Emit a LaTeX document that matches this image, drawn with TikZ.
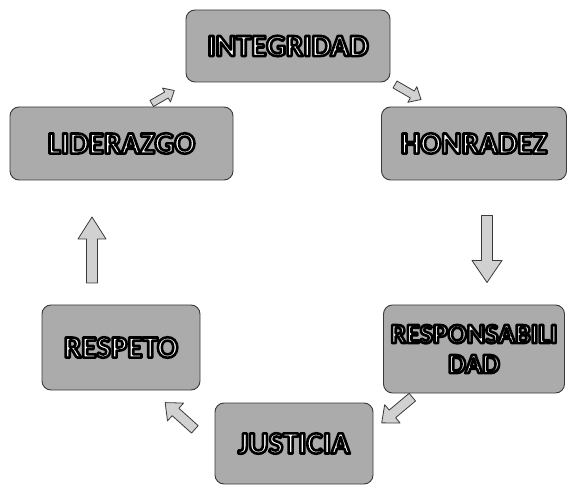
\documentclass[tikz,border=0pt]{standalone}
\usepackage{fontspec}
\setmainfont{Carlito}
\definecolor{boxgray}{HTML}{ABABAB}
\definecolor{edgegray}{HTML}{3A3A3A}
% white letters with a black outline (fill + stroke text render mode)
\newcommand{\lbl}[1]{{\color{white}\special{pdf:code q 2 Tr 2.6 w 0 G 1 j}#1\special{pdf:code Q}}}
% block arrow: x, y, angle, length, head width, shaft width, head length
\newcommand{\blockarr}[7]{%
  \begin{scope}[shift={(#1,#2)}, rotate=#3]
    \draw[blockarrowline] (-#4/2,-#6/2) -- (#4/2-#7,-#6/2) -- (#4/2-#7,-#5/2) -- (#4/2,0)
      -- (#4/2-#7,#5/2) -- (#4/2-#7,#6/2) -- (-#4/2,#6/2) -- cycle;
  \end{scope}}
\tikzset{
  valuebox/.style={draw=edgegray, line width=0.9pt, fill=boxgray, rounded corners=9pt,
    inner sep=0pt, align=center, font=\fontsize{31}{32}\selectfont\bfseries},
  blockarrowline/.style={draw=edgegray, line width=0.8pt, fill=boxgray!55, line join=round}
}
\begin{document}
\begin{tikzpicture}[x=1pt,y=-1pt]
\useasboundingbox (0,0) rectangle (568,489);
% boxes
\node[valuebox, minimum width=204pt, minimum height=72pt] (int) at (288,46) {\lbl{INTEGRIDAD}};
\node[valuebox, minimum width=223pt, minimum height=73pt] (lid) at (121.5,143.5) {\lbl{LIDERAZGO}};
\node[valuebox, minimum width=185pt, minimum height=73pt] (hon) at (474,143.5) {\lbl{HONRADEZ}};
\node[valuebox, minimum width=181pt, minimum height=88pt, font=\fontsize{28}{30}\selectfont\bfseries] (res) at (474,349) {\lbl{RESPONSABILI}\\\lbl{DAD}};
\node[valuebox, minimum width=158pt, minimum height=85pt] (rto) at (121,347.5) {\lbl{RESPETO}};
\node[valuebox, minimum width=158pt, minimum height=81pt] (jus) at (294,443.5) {\lbl{JUSTICIA}};
% block arrows of the cycle
\blockarr{163}{97}{30}{26}{16}{7}{9}
\blockarr{408}{92}{-30}{30}{18}{8}{10}
\blockarr{487}{249}{-90}{67}{30}{11}{22}
\blockarr{397}{410}{220}{40}{24}{10}{14}
\blockarr{180}{416}{138}{40}{24}{10}{14}
\blockarr{92}{250}{90}{66}{28}{11}{22}
\end{tikzpicture}
\end{document}
